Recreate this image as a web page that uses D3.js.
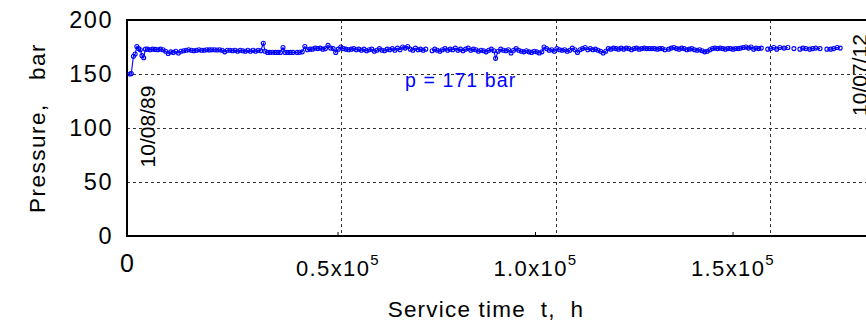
<!DOCTYPE html>
<html><head><meta charset="utf-8">
<script src="https://cdn.jsdelivr.net/npm/d3@7"></script>
<style>
html,body{margin:0;padding:0;background:#fff;}
svg{display:block;font-family:"Liberation Sans",Arial,sans-serif;}
</style></head>
<body><svg id="c" width="866" height="331"></svg>
<script>
// service time in units of 10^3 h
const timeK = [
 0.7,1.0,1.5,1.9,2.3,2.7,3.1,3.5,3.9,4.3,
 4.8,5.4,6.0,6.6,7.2,7.8,8.4,9.0,9.6,10.2,10.8,11.4,12.0,12.6,13.2,13.8,14.4,15.0,15.6,16.2,16.8,17.4,18.0,18.6,19.2,19.8,20.4,21.0,21.6,22.2,22.8,23.4,24.0,24.6,25.2,25.8,26.4,27.0,27.6,28.2,28.8,29.4,30.0,30.6,31.2,31.8,32.2,
 32.8,33.4,34.0,34.6,35.2,35.8,36.4,36.9,37.5,38.1,38.7,39.7,40.3,40.9,41.5,42.1,42.7,43.3,43.9,44.5,45.1,45.7,46.3,46.9,47.5,48.1,48.7,49.3,49.9,50.5,51.1,51.7,52.3,52.9,53.5,54.1,
 54.7,55.3,55.9,56.5,57.1,57.7,58.3,58.9,59.5,60.1,60.7,61.3,61.9,62.5,63.1,63.7,64.3,64.9,65.5,66.1,66.7,67.3,67.9,68.5,69.1,69.7,71.2,71.8,72.4,73.0,73.6,74.2,74.8,75.4,76.0,76.6,77.2,77.8,78.4,79.0,79.6,80.2,80.8,81.4,82.0,82.6,
 83.2,83.8,84.4,85.0,85.6,86.0,86.6,87.2,87.8,88.4,89.0,89.6,90.2,90.8,91.4,92.0,92.6,93.2,93.8,94.4,95.0,95.6,96.2,96.8,97.3,97.9,98.5,99.1,99.7,100.3,100.9,101.5,102.1,102.7,103.3,103.9,104.5,105.1,105.7,106.3,106.9,107.5,108.1,108.7,109.3,109.9,
 110.5,111.1,111.7,112.3,112.9,113.5,114.1,114.7,115.3,115.9,116.5,117.1,117.7,118.3,118.9,119.5,120.1,120.7,121.3,121.9,122.5,123.1,123.7,124.3,124.9,125.5,126.4,127.0,127.6,128.2,128.8,129.4,130.0,130.6,131.2,131.8,132.4,133.0,133.6,134.2,134.8,135.4,136.0,136.6,137.2,137.8,138.4,
 139.0,139.6,140.2,140.8,141.4,142.0,142.6,143.2,143.8,144.4,145.0,145.6,146.2,146.8,147.4,148.0,149.5,
 150.2,150.9,151.6,152.3,153.3,154.2,155.6,157.0,157.7,158.4,159.3,160.0,160.7,161.7,163.3,164.2,164.9,165.7,166.4
];
// pressure, bar
const pressure = [
 150,150.5,166.5,168.5,175.5,173.5,172.5,167,165,173,
 173,172.5,173,172.8,172.5,173,172.5,171,169,170.5,170,171,169.5,171,171.5,172,172.5,172,171.5,172,172.5,172,172,172.5,172.3,172.5,172.5,172.2,172.5,172,170.5,172,172,171.5,172,171,172,171.5,171,172,171,172,171,172,171.5,178.5,171,
 170,170,170.2,170,170,170,174.5,170,170,170,170,170,170.2,170.5,175.5,172.5,173,173,174,173.5,174,173,173.5,176.5,174,173.5,170,173,175,173.5,173,172.5,173,173.5,172.5,173,
 172,173,171.5,172.5,173,171,172,173.5,172,171.5,173,172.5,173.5,172,174,172.5,175,174,175.5,173,172,174,172.5,173,172,173,171.5,173,172,171,172.5,173.5,172,173,172.5,174,172,173,171.5,173,174,172,173,172.5,171,172,
 171.5,170.5,172,173,171.5,164.5,171,173,172,171.5,172.5,169.5,172,173.5,172,171,170.5,171.5,170.5,170,171,170.5,169.5,170.5,175,173.5,172,172.5,171,173.5,172.5,172,172.5,171,172,174,172.5,170,172.5,173.5,174.5,172.5,173.5,172.5,173,172,
 171,169.5,171,173.5,173,174,173.5,173,174,173,174,173.5,172.5,173.5,174,173,173.5,174,173.5,173.5,173.5,173.5,173,173.5,173.5,172.5,173,174,174.5,173.5,173,174,173.5,172.5,173,173.5,172.5,172,172.5,171.5,170.5,171,172.5,173.5,174,173.5,174,
 173.5,173,173.5,173.5,173,173.5,173.5,174,174.5,175,174,175,173,174,173.5,174,173,
 173.5,174.5,173,174.5,174,174.5,173.5,173,174,173.5,173,173.5,174,173.5,173,173,173.5,174.5,174
];
const yTicks = [0, 50, 100, 150, 200];
const xGrid = [50000, 100000, 150000];
const xTickMant = ["0.5", "1.0", "1.5"];
const meanLabel = "p = 171 bar";
const startDate = "10/08/89";
const endDate = "10/07/12";

const svg = d3.select("#c");
const L = 127, T = 20, B = 236;
const x = d3.scaleLinear().domain([0, 180000]).range([L, L + 180000 * 214.3 / 50000]);
const y = d3.scaleLinear().domain([0, 200]).range([B, T]);
const xLab = d3.scaleLinear().domain([50000, 150000]).range([338, 733]);
const blue = "#0000ff";

// grid
const g = svg.append("g").attr("stroke", "#333").attr("stroke-width", 1).attr("stroke-dasharray", "3,3");
g.selectAll("line.h").data(yTicks.filter(v => v > 0 && v < 200)).join("line")
  .attr("x1", L).attr("x2", 866).attr("y1", d => Math.round(y(d)) + 0.5).attr("y2", d => Math.round(y(d)) + 0.5);
g.selectAll("line.v").data(xGrid).join("line")
  .attr("y1", T).attr("y2", B).attr("x1", d => Math.round(x(d)) + 0.5).attr("x2", d => Math.round(x(d)) + 0.5);

// frame
svg.append("path").attr("d", `M866,${T}H${L}V${B}H866`).attr("fill", "none").attr("stroke", "#000").attr("stroke-width", 2);

// x ticks (small, inward)
svg.selectAll("line.xt").data(xGrid).join("line")
  .attr("x1", d => xLab(d)).attr("x2", d => xLab(d)).attr("y1", B).attr("y2", B - 4)
  .attr("stroke", "#000").attr("stroke-width", 1);

// y tick labels
svg.append("g").selectAll("text").data(yTicks).join("text")
  .attr("x", 113).attr("y", d => y(d)).attr("dy", "0.36em")
  .attr("text-anchor", "end").attr("font-size", 23.5).attr("letter-spacing", 1.5)
  .text(d => d);

// x tick labels
svg.append("text").attr("x", x(0)).attr("y", 272).attr("text-anchor", "middle").attr("font-size", 25).text("0");
const xl = svg.append("g").selectAll("text").data(xGrid).join("text")
  .attr("x", d => xLab(d)).attr("y", 276).attr("text-anchor", "middle").attr("font-size", 22).attr("letter-spacing", 1.4);
xl.append("tspan").text((d, i) => xTickMant[i] + "x10");
xl.append("tspan").attr("dy", -11).attr("font-size", 15).text("5");

// axis titles
svg.append("text").attr("x", 486).attr("y", 317).attr("text-anchor", "middle")
  .attr("font-size", 22.5).attr("letter-spacing", 1.2).style("white-space", "pre")
  .text("Service time  t,  h");
svg.append("text").attr("transform", "translate(45,128) rotate(-90)").attr("text-anchor", "middle")
  .attr("font-size", 22.5).attr("letter-spacing", 1.5).style("white-space", "pre")
  .text("Pressure,   bar");

// data line (broken at large gaps) and markers
const pts = timeK.map((t, i) => ({ t: t * 1000, p: pressure[i] }));
const segs = [];
let cur = [];
pts.forEach((d, i) => {
  if (i > 0 && d.t - pts[i - 1].t > 1000) { segs.push(cur); cur = []; }
  cur.push(d);
});
segs.push(cur);
const line = d3.line().x(d => x(d.t)).y(d => y(d.p));
svg.append("g").selectAll("path").data(segs).join("path")
  .attr("d", line).attr("fill", "none").attr("stroke", blue).attr("stroke-width", 1.1);
svg.append("g").selectAll("circle").data(pts).join("circle")
  .attr("cx", d => x(d.t)).attr("cy", d => y(d.p)).attr("r", 2)
  .attr("fill", "none").attr("stroke", blue).attr("stroke-width", 1.1);

// annotations
svg.append("text").attr("x", 405).attr("y", 86.5).attr("font-size", 19.5).attr("letter-spacing", 1.1)
  .attr("fill", blue).text(meanLabel);
svg.append("text").attr("transform", "translate(155,126.5) rotate(-90)").attr("text-anchor", "middle")
  .attr("font-size", 21).text(startDate);
svg.append("text").attr("transform", "translate(867,75) rotate(-90)").attr("text-anchor", "middle")
  .attr("font-size", 21).text(endDate);
</script></body></html>
